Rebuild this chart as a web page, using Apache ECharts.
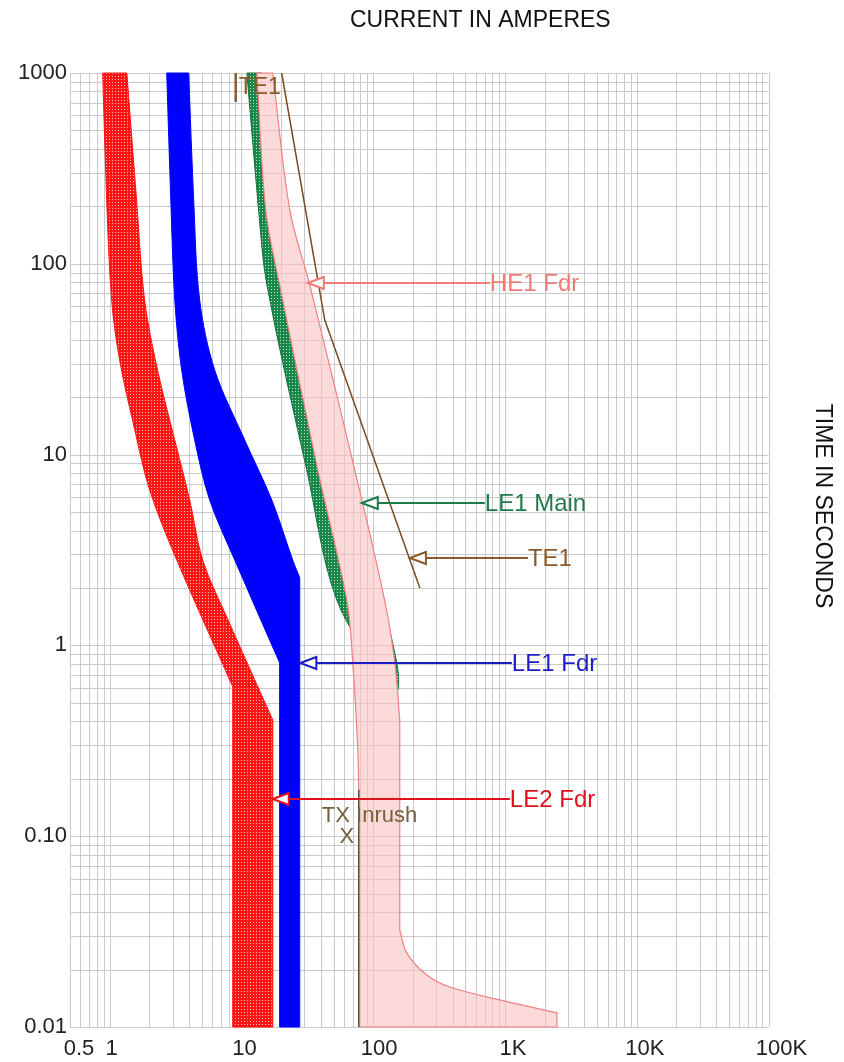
<!DOCTYPE html>
<html>
<head>
<meta charset="utf-8">
<script src="https://cdn.jsdelivr.net/npm/echarts@6/dist/echarts.min.js"></script>
<style>
  html, body { margin: 0; padding: 0; background: #fff; }
  #chart { width: 844px; height: 1062px; }
</style>
</head>
<body>
<div id="chart"></div>
<script>
// ---- Axis ranges and tick labels ----
const xRange = [0.5, 100000];
const yRange = [0.01, 1000];
const xTickValues = [0.5, 1, 10, 100, 1000, 10000, 100000];
const xTickText = ['0.5', '1', '10', '100', '1K', '10K', '100K'];
const yTickValues = [0.01, 0.1, 1, 10, 100, 1000];
const yTickText = ['0.01', '0.10', '1', '10', '100', '1000'];

// ---- Time-current curves: [current (A), time (s)] ----
// LE2 Fdr band
const le2FdrMin = [[0.885, 1000], [0.949, 216], [1.035, 64.6], [1.19, 31.3], [1.55, 13.5], [2.01, 6.52], [3.23, 2.80], [8.59, 0.607], [8.59, 0.01]];
const le2FdrMax = [[1.35, 1000], [1.60, 216], [1.84, 64.6], [2.31, 27.7], [3.12, 11.9], [4.05, 5.78], [5.08, 2.80], [7.73, 1.41], [17.3, 0.406], [17.3, 0.01]];
// LE1 Fdr band
const le1FdrMin = [[2.71, 1000], [2.91, 216], [3.12, 64.6], [3.52, 27.7], [4.42, 11.9], [5.74, 5.78], [8.90, 2.80], [19.5, 0.81], [19.5, 0.01]];
const le1FdrMax = [[3.98, 1000], [4.34, 216], [4.82, 64.6], [6.27, 27.7], [10.6, 11.9], [17.0, 5.78], [24.5, 2.80], [27.7, 2.26], [27.7, 0.01]];
// LE1 Main band
const le1MainMin = [[11.0, 1000], [13.5, 191], [15.6, 77.5], [31.3, 8.30], [52.9, 1.73], [122, 0.663], [148, 0.570]];
const le1MainMax = [[14.3, 1000], [22.5, 191], [31.9, 77.5], [70.0, 8.30], [118, 1.73], [151, 0.81], [156, 0.622]];
// HE1 Fdr band
const he1FdrMin = [[13.1, 1000], [15.3, 191], [19.5, 77.5], [38.0, 8.30], [63.0, 1.73], [70.0, 0.81], [76.4, 0.284], [77.7, 0.175], [77.7, 0.01]];
const he1FdrMax = [[17.3, 1000], [23.3, 191], [33.0, 77.5], [72.5, 8.30], [122, 1.73], [146, 0.81], [159, 0.406], [159, 0.0323], [180, 0.0244], [255, 0.01875], [382, 0.0162], [914, 0.01386], [2478, 0.01185], [2478, 0.01]];
// TE1 transformer damage curve and full-load marker
const te1Damage = [[20.2, 1000], [42.9, 50.7], [226, 2.0]];
const te1Marker = [[9.05, 1000], [9.05, 705]];
// Transformer inrush point and its limit line
const txInrush = [63.1, 0.1];
const txInrushLimit = [[77.7, 0.175], [77.7, 0.01]];

// ---- Callouts: label, arrow tip [A, s], x where the leader ends ----
const calloutText = ['HE1 Fdr', 'LE1 Main', 'TE1', 'LE1 Fdr', 'LE2 Fdr'];
const calloutTip = [[31.9, 79.4], [81.9, 5.57], [190, 2.87], [28.0, 0.81], [17.3, 0.156]];
const calloutTailX = [768, 703, 1493, 1128, 1089];
const calloutColor = ['#f07a7a', '#1f7a4a', '#8b5a2b', '#1c1cc8', '#e0101e'];

const FONT = "'Liberation Sans', Arial, sans-serif";
const GRID_STYLE = { stroke: '#cacaca', lineWidth: 1 };

function dotPattern(base) {
  const c = document.createElement('canvas');
  c.width = 3; c.height = 3;
  const g = c.getContext('2d');
  g.fillStyle = base; g.fillRect(0, 0, 3, 3);
  g.fillStyle = 'rgba(255,255,255,0.75)'; g.fillRect(1, 1, 1, 1);
  return { image: c, repeat: 'repeat' };
}

function snap(v) { return Math.round(v) + 0.5; }

// Smooth closed outline through pixel points; points next to a
// horizontal or vertical run are kept as sharp corners.
function smoothClosedPath(p) {
  const n = p.length;
  const at = function (i) { return p[(i + n) % n]; };
  const unit = function (a, b) {
    const dx = b[0] - a[0], dy = b[1] - a[1];
    const l = Math.hypot(dx, dy) || 1;
    return [dx / l, dy / l];
  };
  const straight = function (a, b) { return Math.abs(a[0] - b[0]) < 0.8 || Math.abs(a[1] - b[1]) < 0.8; };
  const corner = p.map(function (pt, i) { return straight(at(i - 1), pt) || straight(pt, at(i + 1)); });
  const tanOut = function (i) { return corner[(i + n) % n] ? unit(at(i), at(i + 1)) : unit(at(i - 1), at(i + 1)); };
  const tanIn = function (i) { return corner[(i + n) % n] ? unit(at(i - 1), at(i)) : unit(at(i - 1), at(i + 1)); };
  let d = 'M' + p[0][0] + ' ' + p[0][1];
  for (let i = 0; i < n; i++) {
    const a = at(i), b = at(i + 1);
    const L = Math.hypot(b[0] - a[0], b[1] - a[1]) / 3;
    const t0 = tanOut(i), t1 = tanIn(i + 1);
    d += ' C' + (a[0] + t0[0] * L) + ' ' + (a[1] + t0[1] * L) + ' ' +
      (b[0] - t1[0] * L) + ' ' + (b[1] - t1[1] * L) + ' ' + b[0] + ' ' + b[1];
  }
  return d + ' Z';
}

// Log grid: every integer multiple inside each decade
function gridValues(lo, hi) {
  const out = [];
  for (let e = Math.floor(Math.log10(lo)); e <= Math.ceil(Math.log10(hi)); e++) {
    for (let k = 1; k <= 9; k++) {
      const v = k * Math.pow(10, e);
      if (v >= lo * 0.999 && v <= hi * 1.001) out.push(v);
    }
  }
  return out;
}

// Grid segments (pixel space); with a polygon, only the parts inside it
function gridLines(api, poly) {
  const out = [];
  const spans = function (axis, c) {
    if (!poly) return null;
    const hits = [];
    const o = 1 - axis;
    for (let i = 0; i < poly.length; i++) {
      const p = poly[i], q = poly[(i + 1) % poly.length];
      if ((p[axis] <= c && q[axis] > c) || (q[axis] <= c && p[axis] > c)) {
        hits.push(p[o] + (c - p[axis]) * (q[o] - p[o]) / (q[axis] - p[axis]));
      }
    }
    hits.sort(function (a, b) { return a - b; });
    const res = [];
    for (let i = 0; i + 1 < hits.length; i += 2) res.push([hits[i], hits[i + 1]]);
    return res;
  };
  gridValues(xRange[0], xRange[1]).forEach(function (v) {
    const a = api.coord([v, yRange[0]]), b = api.coord([v, yRange[1]]);
    const x = snap(a[0]);
    (spans(0, x) || [[b[1], a[1]]]).forEach(function (s) {
      out.push({ type: 'line', shape: { x1: x, y1: s[0], x2: x, y2: s[1] }, style: GRID_STYLE });
    });
  });
  gridValues(yRange[0], yRange[1]).forEach(function (v) {
    const a = api.coord([xRange[0], v]), b = api.coord([xRange[1], v]);
    const y = snap(a[1]);
    (spans(1, y) || [[a[0], b[0]]]).forEach(function (s) {
      out.push({ type: 'line', shape: { x1: s[0], y1: y, x2: s[1], y2: y }, style: GRID_STYLE });
    });
  });
  return out;
}

const gridSeries = {
  type: 'custom', z: 1, silent: true, data: [[1, 1]],
  renderItem: function (params, api) {
    return { type: 'group', children: gridLines(api, null) };
  }
};

function bandSeries(name, lower, upper, fill, stroke, z) {
  return {
    type: 'custom', name: name, z: z, silent: true, data: [[1, 1]],
    renderItem: function (params, api) {
      const pts = lower.concat(upper.slice().reverse()).map(function (p) { return api.coord(p); });
      return { type: 'path', shape: { pathData: smoothClosedPath(pts) },
        style: { fill: fill, stroke: stroke, lineWidth: 1 } };
    }
  };
}

// Light translucent band: hides what lies below, keeps the grid showing through
function tintedBandSeries(name, lower, upper, fill, stroke, z) {
  return {
    type: 'custom', name: name, z: z, silent: true, data: [[1, 1]],
    renderItem: function (params, api) {
      const pts = lower.concat(upper.slice().reverse()).map(function (p) { return api.coord(p); });
      const d = smoothClosedPath(pts);
      return { type: 'group', children: [
        { type: 'path', shape: { pathData: d }, style: { fill: '#fff', stroke: null } }
      ].concat(gridLines(api, pts), [
        { type: 'path', shape: { pathData: d }, style: { fill: fill, stroke: stroke, lineWidth: 1.2 } }
      ]) };
    }
  };
}

function lineSeries(name, pts, color, width, z) {
  return {
    type: 'custom', name: name, z: z, silent: true, data: [[1, 1]],
    renderItem: function (params, api) {
      return { type: 'polyline', shape: { points: pts.map(function (p) { return api.coord(p); }) },
        style: { stroke: color, lineWidth: width, fill: null } };
    }
  };
}

const calloutSeries = {
  type: 'custom', z: 20, silent: true,
  data: calloutTip.map(function (p, i) { return [p[0], p[1], calloutTailX[i], i]; }),
  renderItem: function (params, api) {
    const i = api.value(3);
    const color = calloutColor[i];
    const tip = api.coord([api.value(0), api.value(1)]);
    const tail = api.coord([api.value(2), api.value(1)]);
    const y = snap(tip[1]) - 0.5;
    const head = 16, half = 6;
    return {
      type: 'group',
      children: [
        { type: 'line', shape: { x1: tip[0] + head, y1: y, x2: tail[0], y2: y }, style: { stroke: color, lineWidth: 2 } },
        { type: 'polygon', shape: { points: [[tip[0], y], [tip[0] + head, y - half], [tip[0] + head, y + half]] },
          style: { fill: '#fff', stroke: color, lineWidth: 2 } },
        { type: 'text', x: tail[0], y: y + 1,
          style: { text: calloutText[i], fill: color, font: '24px ' + FONT, textAlign: 'left', textVerticalAlign: 'middle' } }
      ]
    };
  }
};

const te1LabelSeries = {
  type: 'custom', z: 21, silent: true, data: [[te1Marker[0][0], 836]],
  renderItem: function (params, api) {
    const p = api.coord([api.value(0), api.value(1)]);
    return { type: 'text', x: p[0] + 3, y: p[1],
      style: { text: 'TE1', fill: '#8b5a2b', font: '23px ' + FONT, textAlign: 'left', textVerticalAlign: 'middle' } };
  }
};

const inrushSeries = {
  type: 'custom', z: 21, silent: true, data: [txInrush],
  renderItem: function (params, api) {
    const p = api.coord([api.value(0), api.value(1)]);
    const st = { fill: '#76603f', font: '22px ' + FONT, textVerticalAlign: 'middle' };
    return { type: 'group', children: [
      { type: 'text', x: p[0], y: p[1] + 1, style: Object.assign({ text: 'X', textAlign: 'center' }, st) },
      { type: 'text', x: p[0] - 25, y: p[1] - 20, style: Object.assign({ text: 'TX Inrush', textAlign: 'left' }, st) }
    ] };
  }
};

function closestIndex(values, v) {
  let best = 0, d = Infinity;
  values.forEach(function (t, i) {
    const dd = Math.abs(Math.log10(t) - Math.log10(v));
    if (dd < d) { d = dd; best = i; }
  });
  return best;
}

// Per-label horizontal nudges for the current axis
const xLabelShift = [9, 2, 3, 6, 8, 8, 13];
const xRich = {};
xLabelShift.forEach(function (s, i) {
  xRich['s' + i] = { fontSize: 22, fontFamily: FONT, color: '#222', padding: [0, 0, 0, 2 * s] };
});

const chart = echarts.init(document.getElementById('chart'), null, { renderer: 'canvas' });
chart.setOption({
  backgroundColor: '#fff',
  animation: false,
  title: {
    text: 'CURRENT IN AMPERES', left: 345, top: 4,
    textStyle: { fontSize: 23, fontWeight: 'normal', color: '#111', fontFamily: FONT }
  },
  grid: { left: 70, right: 75.5, top: 73, bottom: 35, containLabel: false },
  xAxis: {
    type: 'log', logBase: 10, min: xRange[0], max: xRange[1],
    axisLine: { show: false }, axisTick: { show: false }, splitLine: { show: false },
    axisLabel: {
      showMinLabel: true, showMaxLabel: true, margin: 11,
      fontSize: 22, fontFamily: FONT, color: '#222', rich: xRich,
      formatter: function (v) {
        const i = closestIndex(xTickValues, v);
        return '{s' + i + '|' + xTickText[i] + '}';
      }
    }
  },
  yAxis: {
    type: 'log', logBase: 10, min: yRange[0], max: yRange[1],
    axisLine: { show: false }, axisTick: { show: false }, splitLine: { show: false },
    axisLabel: {
      showMinLabel: true, showMaxLabel: true, margin: 3,
      fontSize: 22, fontFamily: FONT, color: '#222',
      formatter: function (v) { return yTickText[closestIndex(yTickValues, v)]; }
    }
  },
  graphic: [{
    type: 'text', x: 822, y: 506, rotation: -Math.PI / 2,
    style: { text: 'TIME IN SECONDS', fill: '#111', font: '23px ' + FONT, textAlign: 'center', textVerticalAlign: 'middle' }
  }],
  series: [
    gridSeries,
    bandSeries('LE2 Fdr', le2FdrMin, le2FdrMax, dotPattern('#ff1414'), '#ff1414', 3),
    bandSeries('LE1 Fdr', le1FdrMin, le1FdrMax, '#0000ff', '#0000ff', 4),
    bandSeries('LE1 Main', le1MainMin, le1MainMax, dotPattern('#17874a'), '#16733f', 5),
    tintedBandSeries('HE1 Fdr', he1FdrMin, he1FdrMax, 'rgba(250,193,193,0.6)', '#f08080', 6),
    lineSeries('TE1', te1Damage, '#7b4a22', 1.5, 7),
    lineSeries('TE1 marker', te1Marker, '#8b5a2b', 2.5, 7),
    lineSeries('TX limit', txInrushLimit, '#55552a', 1.5, 7),
    calloutSeries,
    te1LabelSeries,
    inrushSeries
  ]
});
</script>
</body>
</html>
